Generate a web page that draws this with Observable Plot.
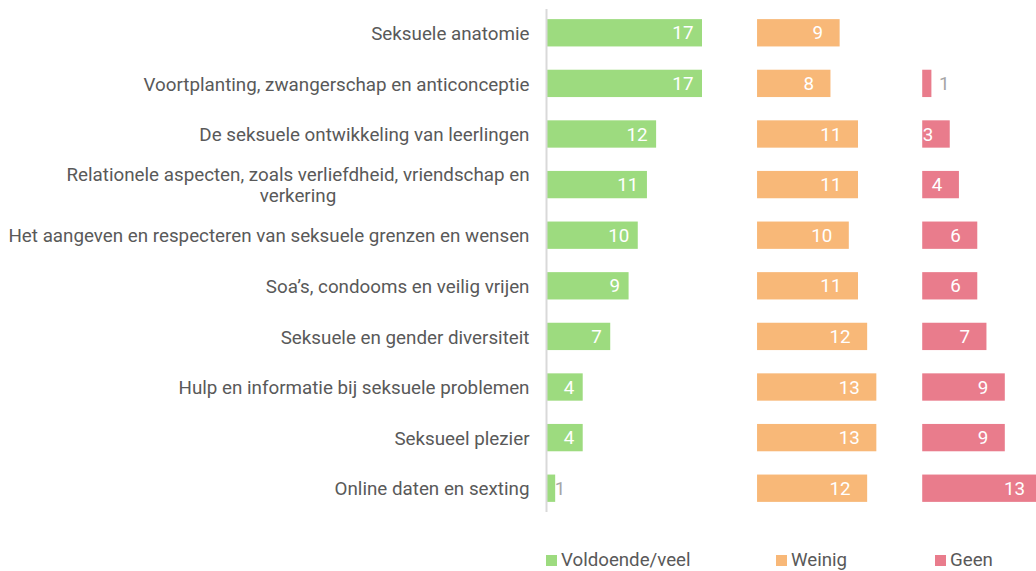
<!DOCTYPE html>
<html>
<head>
<meta charset="utf-8">
<script src="https://cdn.jsdelivr.net/npm/d3@7"></script>
<script src="https://cdn.jsdelivr.net/npm/@observablehq/plot@0.6"></script>
<style>
  html, body { margin: 0; padding: 0; background: #fff; }
  #wrap { position: relative; width: 1036px; height: 571px; overflow: hidden; font-family: Roboto, sans-serif; }
  #legend { position: absolute; top: 550px; left: 0; width: 1036px; height: 20px; color: #595959; font-size: 18.7px; }
  .item { position: absolute; top: 0; display: flex; align-items: center; line-height: 20px; height: 20px; }
  .sw { width: 11px; height: 11px; margin-right: 4px; }
</style>
</head>
<body>
<div id="wrap">
  <div id="chart"></div>
  <div id="legend"></div>
</div>
<script>
// ---- data ----
const categories = [
  "Seksuele anatomie",
  "Voortplanting, zwangerschap en anticonceptie",
  "De seksuele ontwikkeling van leerlingen",
  "Relationele aspecten, zoals verliefdheid, vriendschap en\nverkering",
  "Het aangeven en respecteren van seksuele grenzen en wensen",
  "Soa\u2019s, condooms en veilig vrijen",
  "Seksuele en gender diversiteit",
  "Hulp en informatie bij seksuele problemen",
  "Seksueel plezier",
  "Online daten en sexting"
];
const seriesNames = ["Voldoende/veel", "Weinig", "Geen"];
const voldoende = [17, 17, 12, 11, 10, 9, 7, 4, 4, 1];
const weinig    = [9, 8, 11, 11, 10, 11, 12, 13, 13, 12];
const geen      = [null, 1, 3, 4, 6, 6, 7, 9, 9, 13];

// ---- layout / style ----
const colors = ["#9ddb7f", "#f8b878", "#e97c8c"];
const panelStart = [0, 23, 41];      // start of each panel, in value units
const insideDx = [-9, -17, -17];
const outsideDx = [-1, 7, 7];
const fs = 18.8;

const seriesValues = [voldoende, weinig, geen];
const rows = [];
seriesValues.forEach((vals, k) => {
  vals.forEach((v, i) => {
    if (v != null) rows.push({cat: categories[i], series: seriesNames[k], k, value: v, start: panelStart[k], end: panelStart[k] + v});
  });
});

const marks = [
  Plot.barX(rows, {x1: "start", x2: "end", y: "cat", fill: "series", clip: true}),
  Plot.ruleX([0], {stroke: "#d9d9d9", strokeWidth: 2})
];
[0, 1, 2].forEach(k => {
  marks.push(Plot.text(rows.filter(d => d.k === k && d.value > 1), {
    x: "end", y: "cat", text: d => String(d.value), textAnchor: "end", dx: insideDx[k], fill: "white", fontSize: fs
  }));
  marks.push(Plot.text(rows.filter(d => d.k === k && d.value <= 1), {
    x: "end", y: "cat", text: d => String(d.value), textAnchor: "start", dx: outsideDx[k], fill: "#a6a6a6", fontSize: fs
  }));
});
marks.push(Plot.axisY({tickSize: 0, tickPadding: 17, fontSize: fs, lineHeight: 1.12, fill: "#595959"}));

const chart = Plot.plot({
  width: 1036,
  height: 520,
  marginLeft: 546,
  marginRight: 0,
  marginTop: 9,
  marginBottom: 8,
  style: {fontFamily: "Roboto, sans-serif", fontSize: fs + "px", color: "#595959", background: "white"},
  x: {domain: [0, 53.4], axis: null},
  y: {domain: categories, paddingInner: 0.46, paddingOuter: 0.2, round: false, label: null, axis: null},
  color: {domain: seriesNames, range: colors},
  marks
});
document.getElementById("chart").appendChild(chart);

// center the lines of wrapped axis labels within their block (as in the original)
chart.querySelectorAll("text").forEach(t => {
  const spans = t.querySelectorAll("tspan");
  if (spans.length > 1) {
    const lens = Array.from(spans, s => s.getComputedTextLength());
    const W = Math.max(...lens);
    spans.forEach((s, i) => s.setAttribute("x", -(W - lens[i]) / 2));
  }
});

// legend
const legendLeft = [546, 776, 935];
const legend = document.getElementById("legend");
seriesNames.forEach((name, k) => {
  const item = document.createElement("div");
  item.className = "item";
  item.style.left = legendLeft[k] + "px";
  const sw = document.createElement("div");
  sw.className = "sw";
  sw.style.background = colors[k];
  const label = document.createElement("span");
  label.textContent = name;
  item.appendChild(sw);
  item.appendChild(label);
  legend.appendChild(item);
});
</script>
</body>
</html>
